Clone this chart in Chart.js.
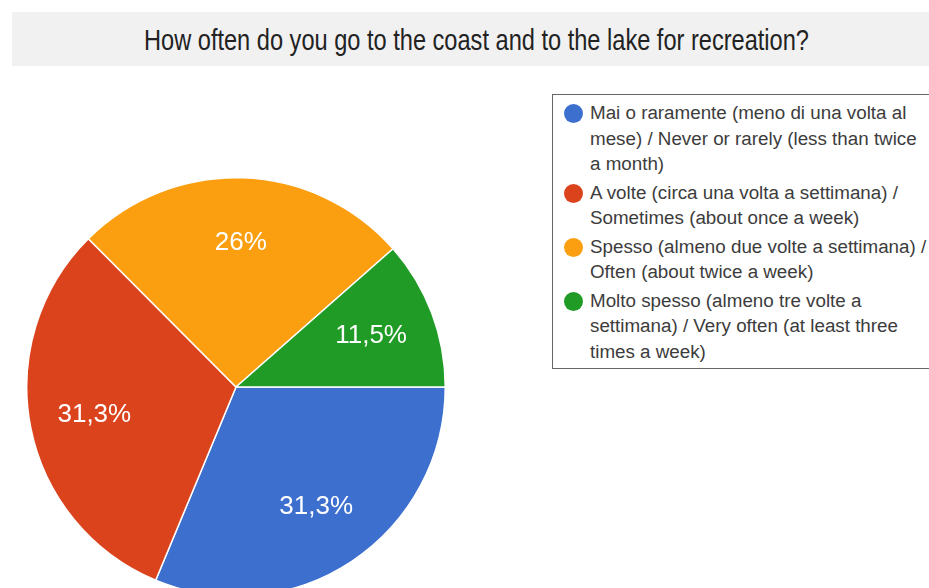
<!DOCTYPE html>
<html>
<head>
<meta charset="utf-8">
<script src="https://cdn.jsdelivr.net/npm/chart.js@4"></script>
<style>
    html, body { margin: 0; padding: 0; background: #fff; }
    body { width: 929px; height: 588px; overflow: hidden; position: relative; font-family: "Liberation Sans", Arial, sans-serif; }
    .title-bar {
        position: absolute; left: 12px; top: 12px; width: 940px; height: 54px;
        background: #f1f1f1;
    }
    .title-text {
        position: absolute; left: 0; top: 1px; width: 929px; height: 54px;
        line-height: 54px; text-align: center; color: #222;
        font-family: "Liberation Sans", Arial, sans-serif;
        font-size: 23.6px; transform: scaleY(1.24);
    }
    .pie-box { position: absolute; left: 26px; top: 177px; width: 420px; height: 420px; }
    .legend {
        position: absolute; left: 552px; top: 94px; width: 420px; height: 275px;
        border: 1px solid #666; box-sizing: border-box; padding: 5px 0 0 0;
    }
    .legend-item { position: relative; padding-left: 37px; margin-bottom: 3px; }
    .legend-dot {
        position: absolute; left: 11px; top: 4px; width: 19px; height: 19px; border-radius: 50%;
    }
    .legend-line { font-size: 18.8px; line-height: 25.5px; color: #3c3c3c; white-space: nowrap; }
</style>
</head>
<body>
<div class="title-bar"><div class="title-text" id="titleText"></div></div>
<div class="pie-box"><canvas id="pieChart"></canvas></div>
<div class="legend" id="legend"></div>

<script>
// Dados do gráfico
const chartTitle = 'How often do you go to the coast and to the lake for recreation?';

const categoryLines = [
    ['Mai o raramente (meno di una volta al', 'mese) / Never or rarely (less than twice', 'a month)'],
    ['A volte (circa una volta a settimana) /', 'Sometimes (about once a week)'],
    ['Spesso (almeno due volte a settimana) /', 'Often (about twice a week)'],
    ['Molto spesso (almeno tre volte a', 'settimana) / Very often (at least three', 'times a week)']
];
const categories = categoryLines.map(lines => lines.join(' '));
const values = [31.3, 31.3, 26, 11.5];
const valueLabels = ['31,3%', '31,3%', '26%', '11,5%'];
const colors = ['#3d6fcf', '#db431d', '#fb9f11', '#1f9b26'];

document.getElementById('titleText').textContent = chartTitle;

// Rótulos de porcentagem dentro das fatias
const sliceLabels = {
    id: 'sliceLabels',
    afterDatasetsDraw(chart) {
        const ctx = chart.ctx;
        const arcs = chart.getDatasetMeta(0).data;
        ctx.save();
        ctx.fillStyle = '#ffffff';
        ctx.font = '26px "Liberation Sans", Arial, sans-serif';
        ctx.textAlign = 'center';
        ctx.textBaseline = 'middle';
        arcs.forEach((arc, i) => {
            const p = arc.getProps(['x', 'y', 'startAngle', 'endAngle', 'outerRadius'], true);
            const mid = (p.startAngle + p.endAngle) / 2;
            const r = p.outerRadius * 0.69;
            ctx.fillText(valueLabels[i], p.x + Math.cos(mid) * r, p.y + Math.sin(mid) * r);
        });
        ctx.restore();
    }
};

const chart = new Chart(document.getElementById('pieChart').getContext('2d'), {
    type: 'pie',
    data: {
        labels: categories,
        datasets: [{
            data: values,
            backgroundColor: colors,
            borderColor: '#ffffff',
            borderWidth: 1.5,
            hoverOffset: 0
        }]
    },
    options: {
        responsive: true,
        maintainAspectRatio: false,
        animation: false,
        rotation: 90,
        layout: { padding: 0 },
        plugins: {
            legend: { display: false },
            tooltip: { enabled: false }
        }
    },
    plugins: [sliceLabels]
});

// Legenda em HTML
const legendEl = document.getElementById('legend');
const items = chart.options.plugins.legend.labels.generateLabels(chart);
items.forEach(item => {
    const div = document.createElement('div');
    div.className = 'legend-item';
    const dot = document.createElement('span');
    dot.className = 'legend-dot';
    dot.style.background = item.fillStyle;
    div.appendChild(dot);
    categoryLines[item.index].forEach(line => {
        const l = document.createElement('div');
        l.className = 'legend-line';
        l.textContent = line;
        div.appendChild(l);
    });
    legendEl.appendChild(div);
});
</script>
</body>
</html>
